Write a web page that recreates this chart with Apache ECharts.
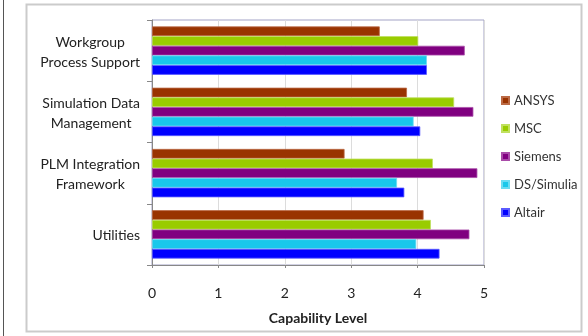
<!DOCTYPE html>
<html>
<head>
<meta charset="utf-8">
<script src="https://cdn.jsdelivr.net/npm/echarts@6/dist/echarts.min.js"></script>
<style>
  html, body { margin: 0; padding: 0; background: #fff; }
  #chart { width: 588px; height: 336px; }
</style>
</head>
<body>
<div id="chart"></div>
<script>
// categories bottom -> top (category y axis starts at the bottom)
const categories = ['Utilities', 'PLM Integration\nFramework', 'Simulation Data\nManagement', 'Workgroup\nProcess Support']

// series values, same order as categories
const altair = [4.33, 3.80, 4.04, 4.14]
const dsSimulia = [3.98, 3.69, 3.94, 4.14]
const siemens = [4.78, 4.90, 4.84, 4.71]
const msc = [4.20, 4.23, 4.55, 4.01]
const ansys = [4.09, 2.90, 3.84, 3.43]

const legendOrder = ['ANSYS', 'MSC', 'Siemens', 'DS/Simulia', 'Altair']
const xTicks = [0, 1, 2, 3, 4, 5]

const font = 'Lato, "Open Sans", sans-serif'

function bar(name, data, color, border) {
  return {
    name,
    type: 'bar',
    data,
    barGap: '0%',
    barCategoryGap: '21%',
    itemStyle: { color, borderColor: border, borderWidth: 0.8 },
  }
}

const chart = echarts.init(document.getElementById('chart'))
chart.setOption({
  animation: false,
  textStyle: { fontFamily: font },
  graphic: [
    {
      type: 'line',
      shape: { x1: 3.5, y1: 0, x2: 3.5, y2: 336 },
      style: { stroke: '#555', lineWidth: 1 },
    },
    {
      type: 'rect',
      shape: { x: 26.5, y: 4.5, width: 555, height: 327 },
      style: { fill: null, stroke: '#cbcbcb', lineWidth: 2 },
    },
  ],
  legend: {
    orient: 'vertical',
    left: 501,
    top: 94,
    padding: 0,
    itemWidth: 7,
    itemHeight: 7,
    itemGap: 15,
    icon: 'rect',
    data: legendOrder,
    textStyle: { fontSize: 13, color: '#333', fontFamily: font },
  },
  grid: {
    left: 152, right: 104, top: 20, bottom: 71,
    show: true, borderColor: '#a3a3c6', borderWidth: 1,
  },
  xAxis: {
    type: 'value',
    min: 0,
    max: 5,
    interval: 1,
    name: 'Capability Level',
    nameLocation: 'middle',
    nameGap: 46,
    nameTextStyle: { fontWeight: 'bold', fontSize: 14, color: '#222', fontFamily: font },
    axisLine: { show: true, lineStyle: { color: '#888' } },
    axisTick: { show: true, length: 3, lineStyle: { color: '#888' } },
    axisLabel: {
      color: '#222', fontSize: 14, margin: 21,
      formatter: v => (xTicks.includes(v) ? String(v) : ''),
    },
    splitLine: { show: true, lineStyle: { color: '#dcdcdc' } },
  },
  yAxis: {
    type: 'category',
    data: categories,
    axisLine: { show: true, lineStyle: { color: '#888' } },
    axisTick: { show: true, length: 5, lineStyle: { color: '#888' } },
    axisLabel: {
      color: '#222', fontSize: 14, margin: 12, lineHeight: 20,
      formatter: v => v.split('\n').map(s => '{a|' + s + '}').join('\n'),
      rich: { a: { align: 'center', fontSize: 14, lineHeight: 20, color: '#222', fontFamily: font, padding: [3, 0, 0, 0] } },
    },
  },
  series: [
    bar('ANSYS', ansys, '#993300', '#bb6a45'),
    bar('MSC', msc, '#99cc00', '#c0e060'),
    bar('Siemens', siemens, '#800080', '#a94ca9'),
    bar('DS/Simulia', dsSimulia, '#19c8eb', '#6adcf2'),
    bar('Altair', altair, '#0000ff', '#5b5bff'),
  ],
})
</script>
</body>
</html>
